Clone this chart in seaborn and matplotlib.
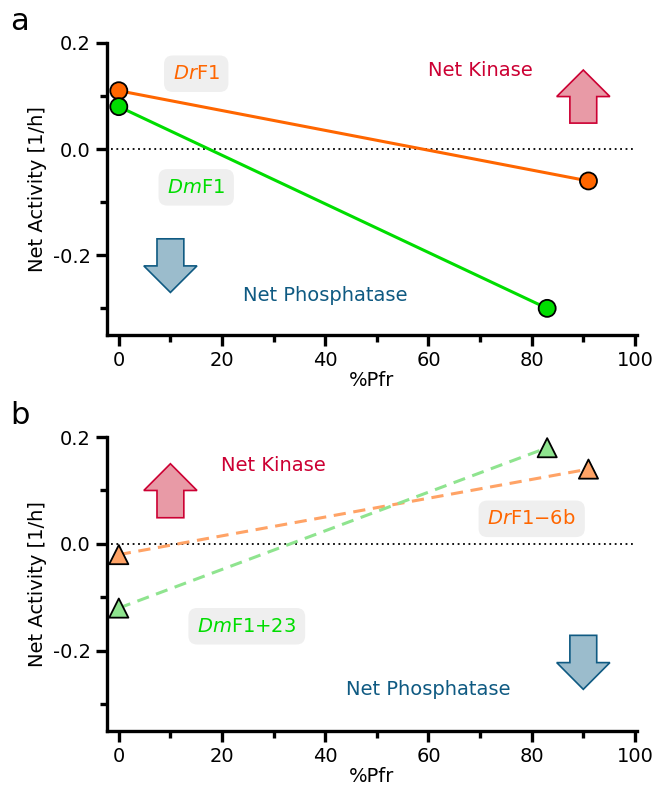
import matplotlib
matplotlib.use("Agg")
import matplotlib.pyplot as plt
from matplotlib.patches import FancyArrow
from matplotlib.ticker import MultipleLocator
import seaborn as sns
import pandas as pd

sns.set_theme(style="ticks")
plt.rcParams['font.family'] = ['DejaVu Sans']
plt.rcParams.update({"text.color": "black", "axes.labelcolor": "black",
                     "axes.edgecolor": "black", "xtick.color": "black",
                     "ytick.color": "black"})

# ---- data ----
pfr_dr = [0, 91]
pfr_dm = [0, 83]
act_a_dr = [0.11, -0.06]     # DrF1
act_a_dm = [0.08, -0.30]     # DmF1
act_b_dr = [-0.02, 0.14]     # DrF1-6b
act_b_dm = [-0.12, 0.18]     # DmF1+23

ORANGE = "#ff6600"
GREEN = "#00dd00"
ORANGE_L = "#ffa366"
GREEN_L = "#8fe48f"
RED = "#cc0033"
BLUE = "#0f5a82"
RED_FILL = "#e89aa6"
BLUE_FILL = "#9bbccc"

fig = plt.figure(figsize=(6.56, 7.88), dpi=100)
ax_a = fig.add_axes([0.163, 0.575, 0.808, 0.3705])
ax_b = fig.add_axes([0.163, 0.0723, 0.808, 0.3731])


def style(ax):
    ax.set_xlim(-2.3, 100.4)
    ax.set_ylim(-0.35, 0.2)
    sns.despine(ax=ax)
    for s in ("left", "bottom"):
        ax.spines[s].set_linewidth(2.4)
        ax.spines[s].set_color("black")
    ax.xaxis.set_major_locator(MultipleLocator(20))
    ax.xaxis.set_minor_locator(MultipleLocator(10))
    ax.yaxis.set_major_locator(MultipleLocator(0.2))
    ax.yaxis.set_minor_locator(MultipleLocator(0.1))
    ax.tick_params(which="major", length=8, width=2.4, labelsize=14, color="black",
                   labelcolor="black", direction="out")
    ax.tick_params(which="minor", length=5, width=2.4, color="black", direction="out")
    ax.set_yticks([0.2, 0.0, -0.2])
    ax.set_yticklabels(["0.2", "0.0", "-0.2"])
    ax.hlines(0, -1.5, 100, colors="black", linestyles=(0, (1, 2)), linewidth=1.3, zorder=1)


def arrow(ax, x, y0, y1, fc, ec):
    ax.add_patch(FancyArrow(x, y0, 0, y1 - y0, width=5.2, head_width=10.3,
                            head_length=0.05, length_includes_head=True,
                            facecolor=fc, edgecolor=ec, linewidth=1.2, zorder=2))


box = dict(boxstyle="round,pad=0.45", facecolor="#efefef", edgecolor="none")

# ---- panel a ----
style(ax_a)
da = pd.DataFrame({"x": pfr_dr + pfr_dm, "y": act_a_dr + act_a_dm,
                   "s": ["Dr"] * 2 + ["Dm"] * 2})
pal_a = {"Dr": ORANGE, "Dm": GREEN}
sns.lineplot(data=da, x="x", y="y", hue="s", palette=pal_a, linewidth=2.2,
             legend=False, ax=ax_a, zorder=3)
sns.scatterplot(data=da, x="x", y="y", hue="s", palette=pal_a, s=150,
                edgecolor="black", linewidth=1.3, legend=False, ax=ax_a, zorder=4, clip_on=False)
ax_a.text(15, 0.142, r"$\it{Dr}$F1", color=ORANGE, fontsize=14, ha="center", va="center", bbox=box)
ax_a.text(15, -0.072, r"$\it{Dm}$F1", color=GREEN, fontsize=14, ha="center", va="center", bbox=box)
ax_a.text(70, 0.148, "Net Kinase", color=RED, fontsize=14, ha="center", va="center")
ax_a.text(40, -0.275, "Net Phosphatase", color=BLUE, fontsize=14, ha="center", va="center")
arrow(ax_a, 90, 0.049, 0.149, RED_FILL, RED)
arrow(ax_a, 10, -0.169, -0.27, BLUE_FILL, BLUE)
ax_a.set_xlabel("%Pfr", fontsize=14, labelpad=1)
ax_a.set_ylabel("Net Activity [1/h]", fontsize=14)

# ---- panel b ----
style(ax_b)
db = pd.DataFrame({"x": pfr_dr + pfr_dm, "y": act_b_dr + act_b_dm,
                   "s": ["Dr"] * 2 + ["Dm"] * 2})
pal_b = {"Dr": ORANGE_L, "Dm": GREEN_L}
sns.lineplot(data=db, x="x", y="y", hue="s", palette=pal_b, linewidth=2.2,
             linestyle=(0, (4, 2.5)), legend=False, ax=ax_b, zorder=3)
sns.scatterplot(data=db, x="x", y="y", hue="s", palette=pal_b, s=190, marker="^",
                edgecolor="black", linewidth=1.3, legend=False, ax=ax_b, zorder=4, clip_on=False)
ax_b.text(30, 0.146, "Net Kinase", color=RED, fontsize=14, ha="center", va="center")
ax_b.text(60, -0.272, "Net Phosphatase", color=BLUE, fontsize=14, ha="center", va="center")
ax_b.text(80, 0.047, r"$\it{Dr}$F1$-$6b", color=ORANGE, fontsize=14, ha="center", va="center", bbox=box)
ax_b.text(24.8, -0.154, r"$\it{Dm}$F1+23", color=GREEN, fontsize=14, ha="center", va="center", bbox=box)
arrow(ax_b, 10, 0.049, 0.150, RED_FILL, RED)
arrow(ax_b, 90, -0.171, -0.272, BLUE_FILL, BLUE)
ax_b.set_xlabel("%Pfr", fontsize=14, labelpad=1)
ax_b.set_ylabel("Net Activity [1/h]", fontsize=14)

fig.text(0.015, 0.962, "a", fontsize=22, va="baseline")
fig.text(0.015, 0.462, "b", fontsize=22, va="baseline")

fig.savefig("out.png", dpi=100)
